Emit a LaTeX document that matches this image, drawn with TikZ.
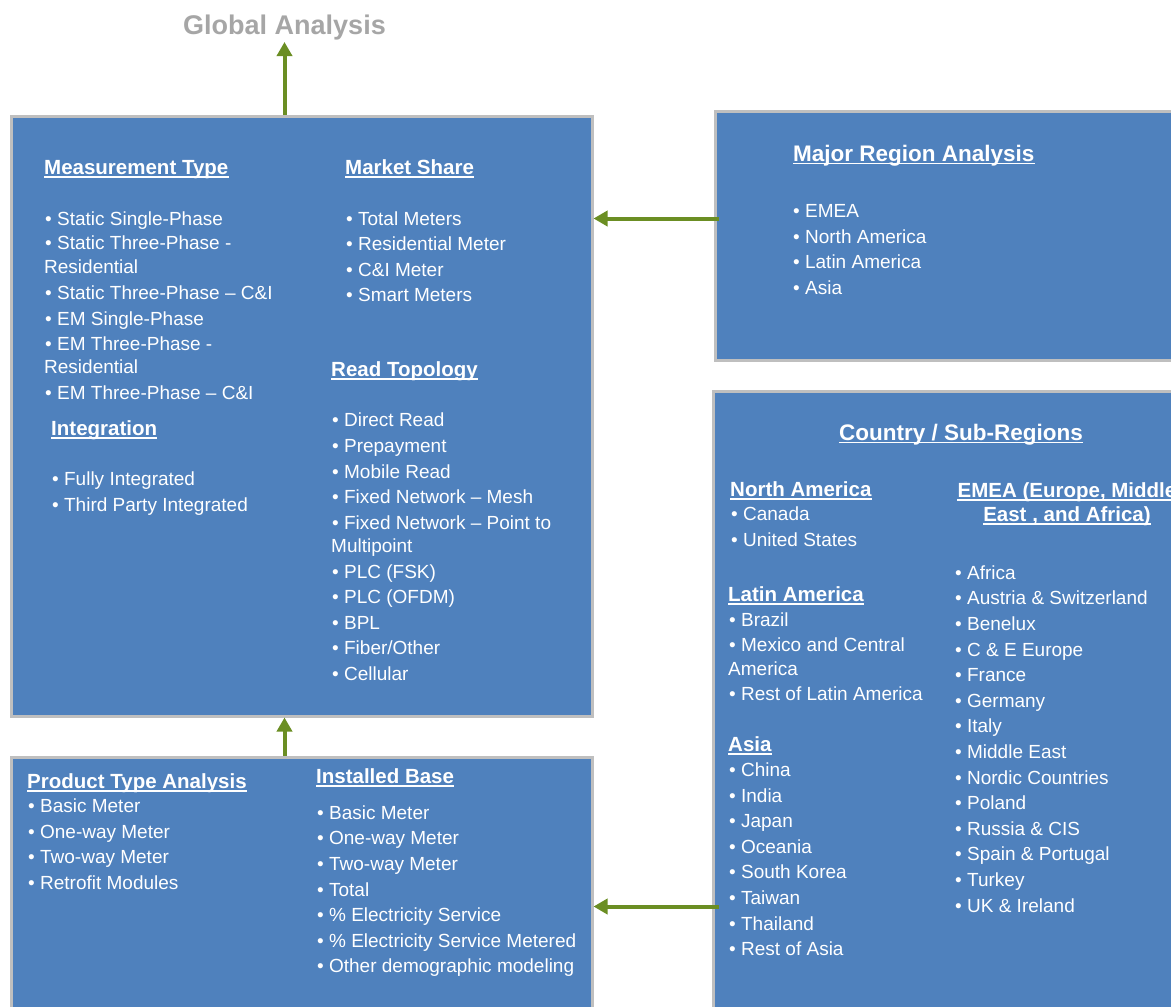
\documentclass[tikz,border=0pt]{standalone}
\usepackage{fontspec}
\setmainfont{Liberation Sans}
\usetikzlibrary{arrows.meta}
\definecolor{boxblue}{HTML}{4F81BD}
\definecolor{boxgray}{HTML}{BFBFBF}
\definecolor{arrgreen}{HTML}{6B8E23}
\definecolor{titlegray}{HTML}{A6A6A6}
\begin{document}
\begin{tikzpicture}[x=1pt,y=-1pt,
  panel/.style={draw=boxgray, fill=boxblue, line width=3pt, inner sep=0pt, anchor=north west},
  txt/.style={inner sep=0pt, anchor=west, text=white, font=\fontsize{19}{23}\selectfont, text height=13.6pt, text depth=0pt},
  hd/.style={inner sep=0pt, anchor=west, text=white, font=\fontsize{20.5}{24}\selectfont\bfseries, text height=14.7pt, text depth=0pt,
    append after command={([yshift=-2.5pt]\tikzlastnode.base west) edge[draw=white, line width=1.5pt] ([yshift=-2.5pt]\tikzlastnode.base east)}},
  hdbig/.style={hd, font=\fontsize{22.5}{26}\selectfont\bfseries, text height=16pt},
  flow/.style={draw=arrgreen, line width=4pt, -{Triangle[width=15pt,length=14pt]}}
]
\clip (0,0) rectangle (1171,1007);
\fill[white] (0,0) rectangle (1171,1007);

% panels
\node[panel, minimum width=581pt, minimum height=600pt] (main) at (9.5,114.5) {};
\node[panel, minimum width=500pt, minimum height=249pt] (major) at (713.5,109.5) {};
\node[panel, minimum width=500pt, minimum height=700pt] (country) at (711.5,389.5) {};
\node[panel, minimum width=581pt, minimum height=300pt] (product) at (9.5,755.5) {};

% title
\node[inner sep=0pt, anchor=base, text=titlegray, font=\fontsize{27}{31}\selectfont\bfseries, text depth=0pt] (gtitle) at (284.5,34) {Global Analysis};

% arrows
\draw[flow] (main.north -| gtitle.base) -- ([yshift=-8pt]gtitle.base);
\coordinate (a1) at ([shift={(5,-17)}]major.west);
\draw[flow] (a1) -- (a1 -| main.east);
\draw[flow] (product.north -| gtitle.base) -- (main.south -| gtitle.base);
\coordinate (a2) at ([shift={(7,165.5)}]country.west);
\draw[flow] (a2) -- (a2 -| product.east);

% main box, left column
\node[hd] (mth) at (44,167) {Measurement Type};
\node[txt] (mt1) at (45,219) {• Static Single-Phase};
\node[txt] (mt2) at (45,243) {• Static Three-Phase -};
\node[txt] (mt3) at (44,267) {Residential};
\node[txt] (mt4) at (45,293) {• Static Three-Phase – C\&I};
\node[txt] (mt5) at (45,319) {• EM Single-Phase};
\node[txt] (mt6) at (45,344) {• EM Three-Phase -};
\node[txt] (mt7) at (44,367) {Residential};
\node[txt] (mt8) at (45,393) {• EM Three-Phase – C\&I};
\node[hd] (inh) at (51,428) {Integration};
\node[txt] (in1) at (52,479) {• Fully Integrated};
\node[txt] (in2) at (52,505) {• Third Party Integrated};

% main box, right column
\node[hd] (msh) at (345,167) {Market Share};
\foreach \t/\y [count=\i] in {{• Total Meters}/219, {• Residential Meter}/244, {• C\&I Meter}/270, {• Smart Meters}/295}
  \node[txt] (ms\i) at (346,\y) {\t};
\node[hd] (rth) at (331,369) {Read Topology};
\foreach \t/\y [count=\i] in {{• Direct Read}/420, {• Prepayment}/446, {• Mobile Read}/472, {• Fixed Network – Mesh}/497, {• Fixed Network – Point to}/523, {• PLC (FSK)}/572, {• PLC (OFDM)}/597, {• BPL}/623, {• Fiber/Other}/648, {• Cellular}/674}
  \node[txt] (rt\i) at (332,\y) {\t};
\node[txt] (rtx) at (331,546) {Multipoint};

% major region
\node[hdbig] (mrh) at (793,153) {Major Region Analysis};
\foreach \t/\y [count=\i] in {{• EMEA}/211, {• North America}/237, {• Latin America}/262, {• Asia}/288}
  \node[txt] (mr\i) at (793,\y) {\t};

% country
\node[hdbig, anchor=center] (csh) at (961,432) {Country / Sub-Regions};
\node[hd] (nah) at (730,489) {North America};
\node[txt] (na1) at (731,514) {• Canada};
\node[txt] (na2) at (731,540) {• United States};
\node[hd] (lah) at (728,594) {Latin America};
\node[txt] (la1) at (729,620) {• Brazil};
\node[txt] (la2) at (729,645) {• Mexico and Central};
\node[txt] (la3) at (728,669) {America};
\node[txt] (la4) at (729,694) {• Rest of Latin America};
\node[hd] (ash) at (728,744) {Asia};
\foreach \t/\y [count=\i] in {{• China}/770, {• India}/796, {• Japan}/821, {• Oceania}/847, {• South Korea}/872, {• Taiwan}/898, {• Thailand}/924, {• Rest of Asia}/949}
  \node[txt] (as\i) at (729,\y) {\t};
\node[hd, anchor=center] (emh1) at (1067,490) {EMEA (Europe, Middle};
\node[hd, anchor=center] (emh2) at (1067,514) {East , and Africa)};
\foreach \t/\y [count=\i] in {{• Africa}/573, {• Austria \& Switzerland}/598, {• Benelux}/624, {• C \& E Europe}/650, {• France}/675, {• Germany}/701, {• Italy}/726, {• Middle East}/752, {• Nordic Countries}/778, {• Poland}/803, {• Russia \& CIS}/829, {• Spain \& Portugal}/854, {• Turkey}/880, {• UK \& Ireland}/906}
  \node[txt] (em\i) at (955,\y) {\t};

% product
\node[hd] (pth) at (27,781) {Product Type Analysis};
\foreach \t/\y [count=\i] in {{• Basic Meter}/806, {• One-way Meter}/832, {• Two-way Meter}/857, {• Retrofit Modules}/883}
  \node[txt] (pt\i) at (28,\y) {\t};
\node[hd] (ibh) at (316,776) {Installed Base};
\foreach \t/\y [count=\i] in {{• Basic Meter}/813, {• One-way Meter}/838, {• Two-way Meter}/864, {• Total}/890, {• \% Electricity Service}/915, {• \% Electricity Service Metered}/941, {• Other demographic modeling}/966}
  \node[txt] (ib\i) at (317,\y) {\t};
\end{tikzpicture}
\end{document}
